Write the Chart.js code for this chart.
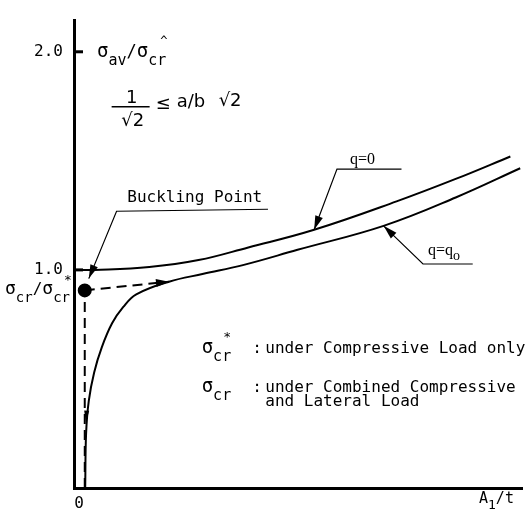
<!DOCTYPE html>
<html>
<head>
<meta charset="utf-8">
<script src="https://cdn.jsdelivr.net/npm/chart.js@4/dist/chart.umd.min.js"></script>
<style>
  body { margin: 0; background: #fff; }
  #wrap { width: 530px; height: 513px; }
</style>
</head>
<body>
<div id="wrap"><canvas id="myChart" width="530" height="513"></canvas></div>
<script>
// curve data (x = A1/t in arbitrary units, y = sigma_av / sigma_cr*)
const q0X = [0.02, 0.46, 1.68, 2.78, 3.89, 5.36, 7.20, 8.52, 9.74];
const q0Y = [1.00, 1.00, 1.013, 1.045, 1.103, 1.184, 1.314, 1.417, 1.520];
const qqX = [0.25, 0.27, 0.33, 0.45, 0.62, 0.85, 1.10, 1.39, 2.12, 2.89, 3.77, 4.99, 6.91, 8.52, 9.96];
const qqY = [0.00, 0.25, 0.40, 0.53, 0.645, 0.755, 0.83, 0.888, 0.946, 0.982, 1.022, 1.092, 1.202, 1.332, 1.466];
const yTicks = [1.0, 2.0];
const xTicks = [0];

// buckling point and the dashed guide lines
const buckling = { x: 0.24, y: 0.906 };
const dashEnd = { x: 2.12, y: 0.946 };

// leader lines for labels: [start, corner, tip]
const leaderBuckling = [{ x: 4.33, y: 1.278 }, { x: 0.95, y: 1.269 }, { x: 0.33, y: 0.96 }];
const leaderQ0 = [{ x: 7.31, y: 1.462 }, { x: 5.87, y: 1.462 }, { x: 5.36, y: 1.184 }];
const leaderQq = [{ x: 8.90, y: 1.027 }, { x: 7.79, y: 1.027 }, { x: 6.91, y: 1.202 }];

const toPts = (xs, ys) => xs.map((x, i) => ({ x: x, y: ys[i] }));

const mono = '"DejaVu Sans Mono", monospace';
const serif = '"Liberation Serif", serif';

// draws a row of text pieces (for subscripts / superscripts)
function runs(ctx, x, y, parts) {
  ctx.textBaseline = 'alphabetic';
  ctx.textAlign = 'left';
  parts.forEach(p => {
    ctx.font = (p.size || 17) + 'px ' + (p.font || mono);
    ctx.fillText(p.t, x + (p.dx || 0), y + (p.dy || 0));
    x += ctx.measureText(p.t).width + (p.dx || 0) + (p.gap || 0);
  });
}

function arrow(ctx, from, tip, len, half) {
  const a = Math.atan2(tip.y - from.y, tip.x - from.x);
  ctx.beginPath();
  ctx.moveTo(tip.x, tip.y);
  ctx.lineTo(tip.x - len * Math.cos(a) + half * Math.sin(a), tip.y - len * Math.sin(a) - half * Math.cos(a));
  ctx.lineTo(tip.x - len * Math.cos(a) - half * Math.sin(a), tip.y - len * Math.sin(a) + half * Math.cos(a));
  ctx.closePath();
  ctx.fill();
}

const extras = {
  id: 'extras',
  afterDatasetsDraw(chart) {
    const ctx = chart.ctx;
    const xs = chart.scales.x, ys = chart.scales.y;
    const P = p => ({ x: xs.getPixelForValue(p.x), y: ys.getPixelForValue(p.y) });
    ctx.save();
    ctx.fillStyle = '#000';
    ctx.strokeStyle = '#000';

    // inward tick marks
    ctx.lineWidth = 3;
    yTicks.forEach(v => {
      const py = ys.getPixelForValue(v);
      ctx.beginPath();
      ctx.moveTo(xs.left, py);
      ctx.lineTo(xs.left + 9, py);
      ctx.stroke();
    });

    // arrowheads
    arrow(ctx, P(buckling), P(dashEnd), 13, 4);
    [leaderBuckling, leaderQ0, leaderQq].forEach(l => arrow(ctx, P(l[1]), P(l[2]), 14, 4));
    arrow(ctx, P({ x: 0.285, y: 0.36 }), P({ x: 0.265, y: 0.30 }), 12, 2.5);

    // axis titles
    const top = P({ x: 0, y: 2.0 });
    runs(ctx, top.x + 23, top.y + 5, [
      { t: 'σ', size: 19 }, { t: 'av', size: 15, dy: 8 }, { t: '/', size: 17 },
      { t: 'σ', size: 19 }, { t: 'cr', size: 15, dy: 8 }, { t: '^', size: 12, dy: -12, dx: -6 }
    ]);
    const bl = P({ x: 0, y: buckling.y });
    runs(ctx, 5, bl.y + 4, [
      { t: 'σ', size: 18 }, { t: 'cr', size: 14, dy: 8 }, { t: '/', size: 16 },
      { t: 'σ', size: 18 }, { t: 'cr', size: 14, dy: 8 }, { t: '*', size: 13, dy: -10, dx: -6 }
    ]);
    const xe = P({ x: 10, y: 0 });
    runs(ctx, xe.x - 43, xe.y + 15, [
      { t: 'A', size: 15 }, { t: '1', size: 13, dy: 6 }, { t: '/t', size: 15 }
    ]);

    // handwritten ratio condition
    const f = P({ x: 0.84, y: 1.748 });
    ctx.font = '18px "DejaVu Sans"';
    ctx.textAlign = 'center';
    ctx.textBaseline = 'alphabetic';
    ctx.fillText('1', f.x + 20, f.y - 4);
    ctx.lineWidth = 1.5;
    ctx.beginPath();
    ctx.moveTo(f.x, f.y);
    ctx.lineTo(f.x + 38, f.y);
    ctx.stroke();
    ctx.fillText('√2', f.x + 21, f.y + 19);
    ctx.textAlign = 'left';
    ctx.fillText('≤', f.x + 44, f.y + 2);
    ctx.fillText('a/b', f.x + 65, f.y);
    ctx.fillText('√2', f.x + 107, f.y - 1);

    // label texts
    const b = P({ x: 1.19, y: 1.31 });
    ctx.font = '16px ' + mono;
    ctx.fillText('Buckling Point', b.x, b.y);
    const q1 = P({ x: 6.16, y: 1.485 });
    ctx.font = '16px ' + serif;
    ctx.fillText('q=0', q1.x, q1.y);
    const q2 = P({ x: 7.90, y: 1.07 });
    runs(ctx, q2.x, q2.y, [
      { t: 'q=q', size: 16, font: serif }, { t: 'o', size: 14, font: serif, dy: 5 }
    ]);

    // legend notes
    const n1 = P({ x: 2.85, y: 0.62 });
    runs(ctx, n1.x, n1.y, [
      { t: 'σ', size: 19 }, { t: 'cr', size: 15, dy: 8 }, { t: '*', size: 13, dy: -12, dx: -8 }
    ]);
    const n2 = P({ x: 2.85, y: 0.44 });
    runs(ctx, n2.x, n2.y, [{ t: 'σ', size: 19 }, { t: 'cr', size: 15, dy: 8 }]);
    const c1 = P({ x: 3.98, y: 0.62 });
    const c2 = P({ x: 3.98, y: 0.44 });
    const t3 = P({ x: 4.27, y: 0.375 });
    ctx.font = '16px ' + mono;
    ctx.fillText(':', c1.x, c1.y);
    ctx.fillText(':', c2.x, c2.y);
    ctx.fillText('under Compressive Load only', t3.x, c1.y);
    ctx.fillText('under Combined Compressive', t3.x, c2.y);
    ctx.fillText('and Lateral Load', t3.x, t3.y);

    ctx.restore();
  }
};

const lineDs = (data, extra) => Object.assign({
  data: data, showLine: true, borderColor: '#000', backgroundColor: '#000',
  borderWidth: 2, pointRadius: 0, fill: false
}, extra);

const chart = new Chart(document.getElementById('myChart'), {
  type: 'scatter',
  data: {
    datasets: [
      lineDs(toPts(q0X, q0Y), { tension: 0.4 }),
      lineDs(toPts(qqX, qqY), { tension: 0.4 }),
      lineDs([{ x: buckling.x, y: 0 }, buckling], { borderDash: [10, 6] }),
      lineDs([buckling, dashEnd], { borderDash: [10, 6] }),
      lineDs([buckling], { pointRadius: 6, showLine: false }),
      lineDs(leaderBuckling, { borderWidth: 1.2 }),
      lineDs(leaderQ0, { borderWidth: 1.2 }),
      lineDs(leaderQq, { borderWidth: 1.2 })
    ]
  },
  options: {
    responsive: false,
    animation: false,
    layout: { padding: { top: 10, right: 3, left: 0, bottom: 0 } },
    plugins: { legend: { display: false }, tooltip: { enabled: false } },
    scales: {
      x: {
        type: 'linear', min: 0, max: 10,
        grid: { display: false, drawTicks: false },
        border: { display: true, color: '#000', width: 3 },
        afterBuildTicks: s => { s.ticks = xTicks.map(v => ({ value: v })); },
        afterFit: s => { s.height = 25; },
        ticks: { color: '#000', padding: 6, labelOffset: 5, font: { family: mono, size: 16 } }
      },
      y: {
        type: 'linear', min: 0, max: 2.143,
        grid: { display: false, drawTicks: false },
        border: { display: true, color: '#000', width: 3 },
        afterBuildTicks: s => { s.ticks = yTicks.map(v => ({ value: v })); },
        afterFit: s => { s.width = 74; },
        ticks: { color: '#000', padding: 11, font: { family: mono, size: 16 }, callback: v => v.toFixed(1) }
      }
    }
  },
  plugins: [extras]
});
</script>
</body>
</html>
